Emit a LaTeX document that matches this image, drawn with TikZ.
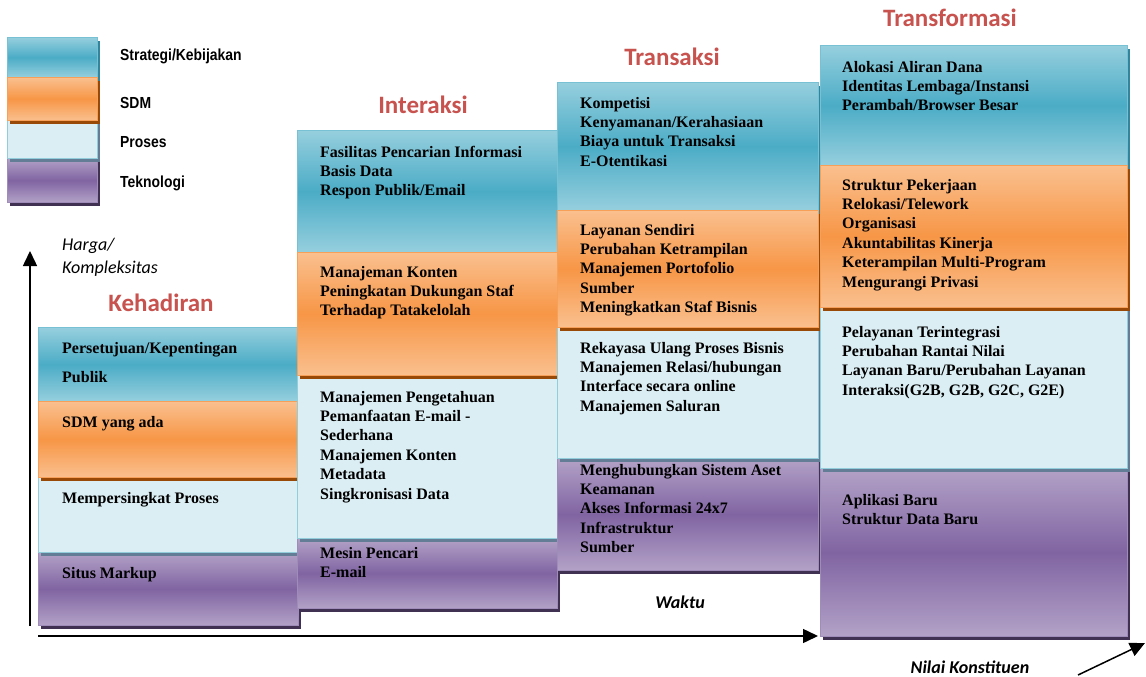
\documentclass[tikz,border=0pt]{standalone}
\usepackage{fontspec}
\setmainfont{Liberation Serif}
\newfontfamily\calfont{Carlito}
\newfontfamily\legfont[FakeStretch=0.87]{Liberation Sans}
\usetikzlibrary{shadows,arrows.meta}
\definecolor{bluelight}{RGB}{150,207,222}
\definecolor{bluemid}{RGB}{75,172,198}
\definecolor{blueedge}{RGB}{120,192,212}
\definecolor{blueshadow}{RGB}{49,133,156}
\definecolor{orangelight}{RGB}{250,192,143}
\definecolor{orangemid}{RGB}{247,150,70}
\definecolor{orangeedge}{RGB}{247,160,90}
\definecolor{orangeshadow}{RGB}{152,72,7}
\definecolor{proses}{RGB}{219,238,244}
\definecolor{prosesedge}{RGB}{146,205,220}
\definecolor{prosesshadow}{RGB}{100,125,150}
\definecolor{purplelight}{RGB}{179,162,199}
\definecolor{purplemid}{RGB}{128,100,162}
\definecolor{purpleedge}{RGB}{160,140,185}
\definecolor{purpleshadow}{RGB}{64,49,82}
\definecolor{titlered}{RGB}{200,82,78}
\newcommand\bodyfont{\fontsize{16}{19.4}\selectfont\bfseries}
\tikzset{
  box/.style={rectangle, anchor=north west, inner sep=0pt, line width=0.8pt},
  sblue/.style={box, draw=blueedge, top color=bluelight, bottom color=bluelight, middle color=bluemid,
    drop shadow={shadow xshift=3pt, shadow yshift=-4pt, fill=blueshadow, opacity=1}},
  sorange/.style={box, draw=orangeedge, top color=orangelight, bottom color=orangelight, middle color=orangemid,
    drop shadow={shadow xshift=3pt, shadow yshift=-4pt, fill=orangeshadow, opacity=1}},
  sproses/.style={box, draw=prosesedge, fill=proses,
    drop shadow={shadow xshift=3pt, shadow yshift=-4pt, fill=prosesshadow, opacity=1}},
  spurple/.style={box, draw=purpleedge, top color=purplelight, bottom color=purplelight, middle color=purplemid,
    drop shadow={shadow xshift=3pt, shadow yshift=-4pt, fill=purpleshadow, opacity=1}},
  txt/.style={anchor=north west, inner sep=0pt, align=left, font=\bodyfont, text=black},
  title/.style={inner sep=0pt, font=\calfont\bfseries\fontsize{25}{30}\selectfont, text=titlered},
  leg/.style={anchor=base west, inner sep=0pt, font=\legfont\bfseries\fontsize{16}{19}\selectfont},
  axlab/.style={inner sep=0pt, font=\calfont\bfseries\itshape\fontsize{18}{23}\selectfont},
  axis/.style={line width=1.5pt, -{Triangle[length=15pt,width=14pt]}}
}
\begin{document}
\begin{tikzpicture}[x=1pt,y=-1pt]
\useasboundingbox (0,0) rectangle (1146,677);
\fill[white] (0,0) rectangle (1146,677);

% Legend
\node[sblue, minimum width=90pt, minimum height=40pt] (lS) at (7,37) {};
\node[spurple, minimum width=90pt, minimum height=44pt] (lT) at (7,158) {};
\node[sproses, minimum width=90pt, minimum height=38pt] (lP) at (7,120) {};
\node[sorange, minimum width=90pt, minimum height=43pt] (lD) at (7,77) {};
\node[leg] (lSt) at (120,60) {Strategi/Kebijakan};
\node[leg] (lDt) at (120,108) {SDM};
\node[leg] (lPt) at (120,147) {Proses};
\node[leg] (lTt) at (120,187) {Teknologi};

% Kehadiran
\node[sblue, minimum width=260pt, minimum height=74pt] (kS) at (38,327) {};
\node[spurple, minimum width=260pt, minimum height=73pt] (kT) at (38,552) {};
\node[sproses, minimum width=260pt, minimum height=75pt] (kP) at (38,477) {};
\node[sorange, minimum width=260pt, minimum height=76pt] (kD) at (38,401) {};
\node[txt] (kSt) at (62,339.4) {\strut Persetujuan/Kepentingan\\[9.6pt]Publik};
\node[txt] (kDt) at (62,413.4) {\strut SDM yang ada};
\node[txt] (kPt) at (62,489.4) {\strut Mempersingkat Proses};
\node[txt] (kTt) at (62,564.4) {\strut Situs Markup};

% Interaksi
\node[sblue, minimum width=260pt, minimum height=122pt] (iS) at (297,130) {};
\node[spurple, minimum width=260pt, minimum height=70pt] (iT) at (297,538) {};
\node[sproses, minimum width=260pt, minimum height=163pt] (iP) at (297,375) {};
\node[sorange, minimum width=260pt, minimum height=123pt] (iD) at (297,252) {};
\node[txt] (iSt) at (320,143.4) {\strut Fasilitas Pencarian Informasi\\Basis Data\\Respon Publik/Email};
\node[txt] (iDt) at (320,263.4) {\strut Manajeman Konten\\Peningkatan Dukungan Staf\\Terhadap Tatakelolah};
\node[txt] (iPt) at (320,388.4) {\strut Manajemen Pengetahuan\\Pemanfaatan E-mail -\\Sederhana\\Manajemen Konten\\Metadata\\Singkronisasi Data};
\node[txt] (iTt) at (320,544.4) {\strut Mesin Pencari\\E-mail};

% Transaksi
\node[sblue, minimum width=261pt, minimum height=128pt] (tS) at (557,82) {};
\node[spurple, minimum width=261pt, minimum height=112pt] (tT) at (557,458) {};
\node[sproses, minimum width=261pt, minimum height=131pt] (tP) at (557,327) {};
\node[sorange, minimum width=261pt, minimum height=117pt] (tD) at (557,210) {};
\node[txt] (tSt) at (580,94.4) {\strut Kompetisi\\Kenyamanan/Kerahasiaan\\Biaya untuk Transaksi\\E-Otentikasi};
\node[txt] (tDt) at (580,221.4) {\strut Layanan Sendiri\\Perubahan Ketrampilan\\Manajemen Portofolio\\Sumber\\Meningkatkan Staf Bisnis};
\node[txt] (tPt) at (580,339.4) {\strut Rekayasa Ulang Proses Bisnis\\Manajemen Relasi/hubungan\\Interface secara online\\Manajemen Saluran};
\node[txt] (tTt) at (580,461.4) {\strut Menghubungkan Sistem Aset\\Keamanan\\Akses Informasi 24x7\\Infrastruktur\\Sumber};

% Transformasi
\node[sblue, minimum width=307pt, minimum height=120pt] (fS) at (820,45) {};
\node[spurple, minimum width=307pt, minimum height=168pt] (fT) at (820,468) {};
\node[sproses, minimum width=307pt, minimum height=161pt] (fP) at (820,307) {};
\node[sorange, minimum width=307pt, minimum height=142pt] (fD) at (820,165) {};
\node[txt] (fSt) at (842,58.4) {\strut Alokasi Aliran Dana\\Identitas Lembaga/Instansi\\Perambah/Browser Besar};
\node[txt] (fDt) at (842,176.4) {\strut Struktur Pekerjaan\\Relokasi/Telework\\Organisasi\\Akuntabilitas Kinerja\\Keterampilan Multi-Program\\Mengurangi Privasi};
\node[txt] (fPt) at (842,323.4) {\strut Pelayanan Terintegrasi\\Perubahan Rantai Nilai\\Layanan Baru/Perubahan Layanan\\Interaksi(G2B, G2B, G2C, G2E)};
\node[txt] (fTt) at (842,491.4) {\strut Aplikasi Baru\\Struktur Data Baru};

% Titles
\node[title] (tK) at (161,303) {Kehadiran};
\node[title] (tI) at (423,105) {Interaksi};
\node[title] (tT2) at (672,57) {Transaksi};
\node[title] (tF) at (950,18) {Transformasi};

% Axes
\coordinate (yb) at (30,626);
\coordinate (yt) at (30,251);
\coordinate (xa) at (38,636);
\coordinate (xb) at (818,636);
\coordinate (da) at (1078,675);
\coordinate (db) at (1145,643);
\draw[axis] (yb) -- (yt);
\draw[axis] (xa) -- (xb);
\draw[axis] (da) -- (db);
\node[axlab, font=\calfont\itshape\fontsize{18}{23}\selectfont, anchor=north west, align=left] (hk) at (62,233.9) {\strut Harga/\\\strut Kompleksitas};
\node[axlab] (wk) at (680,602) {Waktu};
\node[axlab] (nk) at (970,667) {Nilai Konstituen};
\end{tikzpicture}
\end{document}
